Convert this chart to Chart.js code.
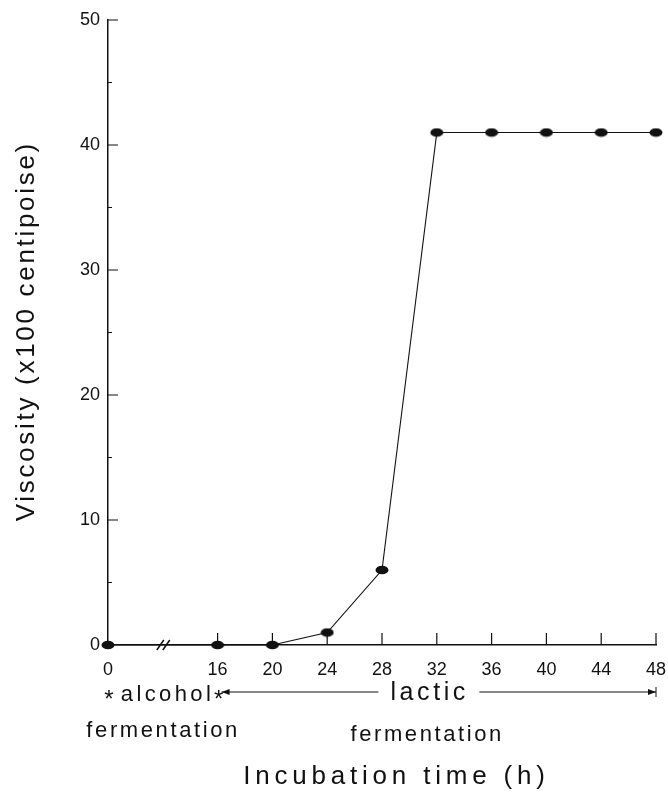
<!DOCTYPE html>
<html>
<head>
<meta charset="utf-8">
<script src="https://cdn.jsdelivr.net/npm/chart.js@4.4.1/dist/chart.umd.min.js"></script>
<style>
  html, body { margin: 0; padding: 0; background: #fff; }
</style>
</head>
<body>
<canvas id="chart" width="668" height="795"></canvas>
<script>
const hours = [0, 16, 20, 24, 28, 32, 36, 40, 44, 48]
const viscosity = [0, 0, 0, 1, 6, 41, 41, 41, 41, 41]
const hourTicks = [0, 16, 20, 24, 28, 32, 36, 40, 44, 48]
const viscosityTicks = [0, 10, 20, 30, 40, 50]
const viscosityMinorTicks = [5, 15, 25, 35, 45]

// the time axis is broken between 0 and 16 h, hour 0 sits at this axis value
const breakStart = 8
const axisHour = (h) => h === 0 ? breakStart : h

const ink = '#111'
const fontFamily = '"Liberation Sans", Arial, Helvetica, sans-serif'

const makeEllipse = () => {
  const c = document.createElement('canvas')
  c.width = 14
  c.height = 10
  const g = c.getContext('2d')
  g.fillStyle = ink
  g.beginPath()
  g.ellipse(7, 5, 6.5, 4.3, 0, 0, Math.PI * 2)
  g.fill()
  return c
}

const spacedText = (ctx, text, x, y, size, spacing) => {
  ctx.font = size + 'px ' + fontFamily
  ctx.letterSpacing = spacing + 'px'
  const w = ctx.measureText(text).width - spacing
  ctx.textAlign = 'left'
  ctx.fillText(text, x - w / 2, y)
  ctx.letterSpacing = '0px'
  return w
}

const extrasPlugin = {
  id: 'extras',
  afterDraw(chart) {
    const ctx = chart.ctx
    const xs = chart.scales.x
    const ys = chart.scales.y
    const area = chart.chartArea
    ctx.save()
    ctx.strokeStyle = ink
    ctx.fillStyle = ink
    ctx.lineWidth = 1.2

    // inward tick marks
    ctx.beginPath()
    hourTicks.slice(1).forEach(h => {
      const px = xs.getPixelForValue(axisHour(h))
      ctx.moveTo(px, area.bottom)
      ctx.lineTo(px, area.bottom - 12)
    })
    viscosityTicks.slice(1).forEach(v => {
      const py = ys.getPixelForValue(v)
      ctx.moveTo(area.left, py)
      ctx.lineTo(area.left + 10, py)
    })
    viscosityMinorTicks.forEach(v => {
      const py = ys.getPixelForValue(v)
      ctx.moveTo(area.left, py)
      ctx.lineTo(area.left + 4, py)
    })
    ctx.stroke()

    // axis break mark
    const bx = (xs.getPixelForValue(breakStart) + xs.getPixelForValue(16)) / 2 + 1
    ctx.lineWidth = 1.5
    ctx.beginPath()
    ;[-3, 3].forEach(d => {
      ctx.moveTo(bx + d - 4, area.bottom + 5)
      ctx.lineTo(bx + d + 3, area.bottom - 5)
    })
    ctx.stroke()

    // phase annotations
    const x0 = xs.getPixelForValue(axisHour(0))
    const x16 = xs.getPixelForValue(16)
    const x48 = xs.getPixelForValue(48)
    ctx.textBaseline = 'middle'
    spacedText(ctx, 'alcohol', (x0 + x16) / 2 + 3, 695, 22, 3.4)
    spacedText(ctx, 'fermentation', (x0 + x16) / 2 - 1, 731, 22, 2.6)
    const lacticX = xs.getPixelForValue(31.35)
    const lw = spacedText(ctx, 'lactic', lacticX, 693, 25, 3.6)
    spacedText(ctx, 'fermentation', lacticX - 2, 735, 22, 2.6)

    ctx.font = '24px ' + fontFamily
    ctx.textAlign = 'center'
    ctx.fillText('*', x0 + 1, 700)
    ctx.fillText('*', x16 + 1, 700)

    const ay = 692
    ctx.lineWidth = 1
    ctx.beginPath()
    ctx.moveTo(x16 + 4, ay)
    ctx.lineTo(lacticX - lw / 2 - 12, ay)
    ctx.moveTo(lacticX + lw / 2 + 14, ay)
    ctx.lineTo(x48, ay)
    ctx.stroke()
    ctx.beginPath()
    ctx.moveTo(x16 + 4, ay)
    ctx.lineTo(x16 + 12, ay - 3)
    ctx.lineTo(x16 + 12, ay + 3)
    ctx.closePath()
    ctx.moveTo(x48, ay)
    ctx.lineTo(x48 - 8, ay - 3)
    ctx.lineTo(x48 - 8, ay + 3)
    ctx.closePath()
    ctx.fill()
    ctx.beginPath()
    ctx.moveTo(x48, ay - 5)
    ctx.lineTo(x48, ay + 5)
    ctx.stroke()

    // axis titles
    spacedText(ctx, 'Incubation time (h)', (area.left + area.right) / 2 + 12, 777, 26, 4.8)
    ctx.save()
    ctx.translate(27, (area.top + area.bottom) / 2)
    ctx.rotate(-Math.PI / 2)
    spacedText(ctx, 'Viscosity (x100 centipoise)', 0, 0, 26, 2.7)
    ctx.restore()

    ctx.restore()
  }
}

new Chart(document.getElementById('chart'), {
  type: 'line',
  data: {
    datasets: [{
      data: hours.map((h, i) => ({ x: axisHour(h), y: viscosity[i] })),
      borderColor: ink,
      borderWidth: 1.1,
      pointStyle: makeEllipse(),
      tension: 0,
      clip: false
    }]
  },
  options: {
    responsive: false,
    animation: false,
    devicePixelRatio: 1,
    layout: { padding: { top: 20, right: 1, left: 0, bottom: 0 } },
    plugins: {
      legend: { display: false },
      tooltip: { enabled: false }
    },
    scales: {
      x: {
        type: 'linear',
        min: breakStart,
        max: 48,
        afterBuildTicks: (scale) => {
          scale.ticks = hourTicks.map(h => ({ value: axisHour(h) }))
        },
        afterFit: (scale) => {
          scale.height = 150
          scale.paddingLeft = 0
          scale.paddingRight = 12
        },
        grid: { display: false, drawTicks: false },
        border: { display: true, color: ink, width: 1.5 },
        ticks: {
          autoSkip: false,
          maxRotation: 0,
          padding: 14,
          color: ink,
          font: { family: fontFamily, size: 18 },
          callback: (value, index) => hourTicks[index]
        }
      },
      y: {
        min: 0,
        max: 50,
        afterBuildTicks: (scale) => {
          scale.ticks = viscosityTicks.map(v => ({ value: v }))
        },
        afterFit: (scale) => { scale.width = 108 },
        grid: { display: false, drawTicks: false },
        border: { display: true, color: ink, width: 1.5 },
        ticks: {
          padding: 8,
          color: ink,
          font: { family: fontFamily, size: 18 }
        }
      }
    }
  },
  plugins: [extrasPlugin]
})
</script>
</body>
</html>
